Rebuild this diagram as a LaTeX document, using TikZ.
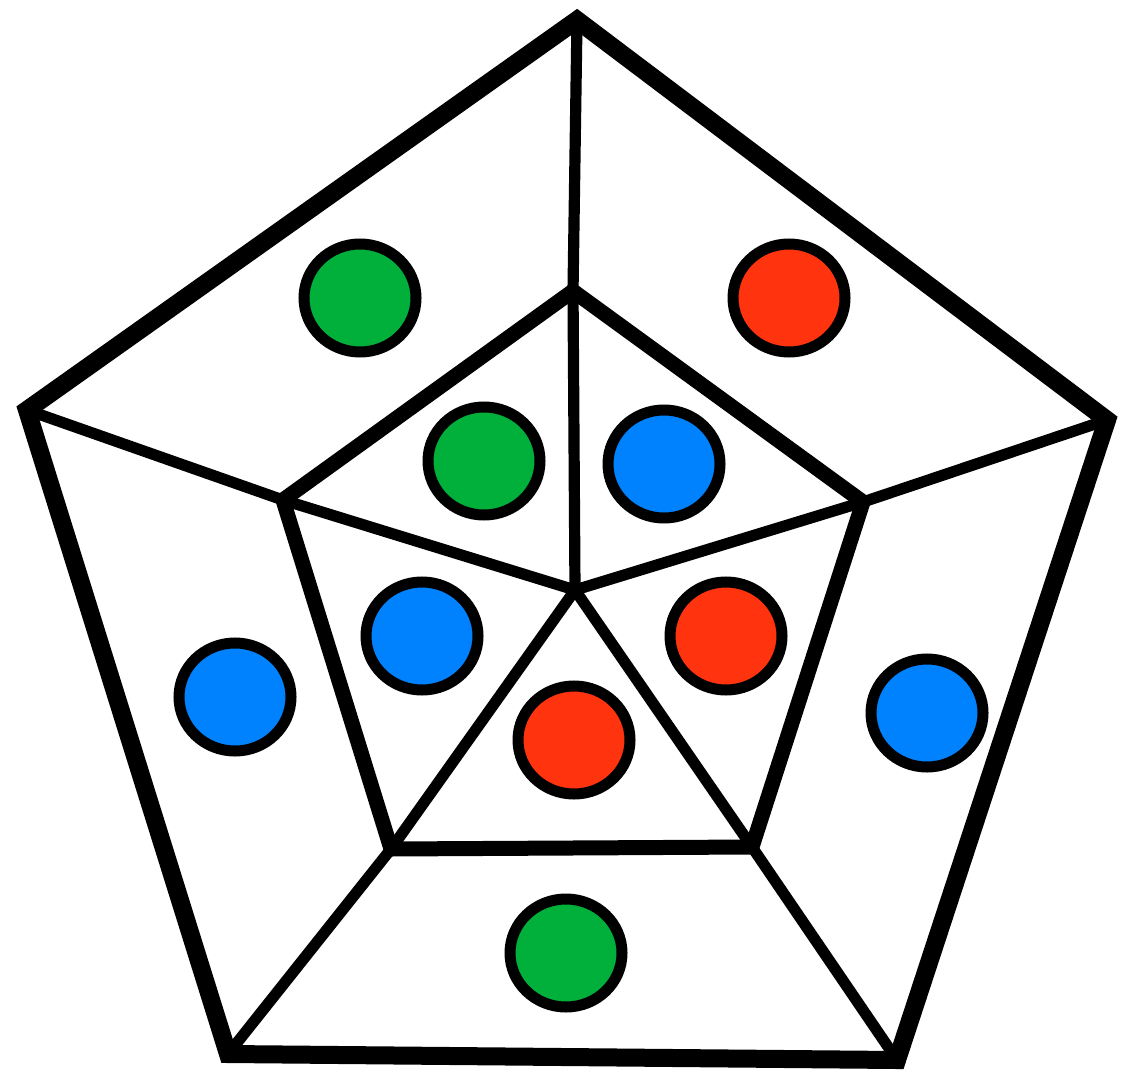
\documentclass[tikz,border=0pt]{standalone}
\usetikzlibrary{shadows,shapes.geometric}
\definecolor{cgreen}{RGB}{0,176,58}
\definecolor{cred}{RGB}{255,51,14}
\definecolor{cblue}{RGB}{0,130,255}
\tikzset{
  outerline/.style={line width=9pt, line join=miter, miter limit=10},
  innerline/.style={line width=7.5pt, line join=miter, miter limit=10},
  spoke/.style={line width=5.6pt},
  dot/.style={ellipse, draw=black, line width=5.5pt, minimum width=56pt, minimum height=54pt, inner sep=0pt,
    drop shadow={shadow xshift=0pt, shadow yshift=-2pt, opacity=0.25, fill=black}},
}
\begin{document}
\begin{tikzpicture}[x=0.5pt,y=-0.5pt]
\useasboundingbox (0,0) rectangle (1122,1079);
% outer vertices
\coordinate (O1) at (577,20);
\coordinate (O2) at (1107,420);
\coordinate (O3) at (897,1060);
\coordinate (O4) at (228,1054);
\coordinate (O5) at (27,410);
% inner vertices
\coordinate (I1) at (573,291);
\coordinate (I2) at (863,502);
\coordinate (I3) at (752,847);
\coordinate (I4) at (391,849);
\coordinate (I5) at (283,500);
\coordinate (C) at (575,590);
% spokes
\foreach \i in {1,...,5} {
  \draw[spoke] (O\i) -- (I\i);
  \draw[spoke] (I\i) -- (C);
}
\draw[outerline] (O1) -- (O2) -- (O3) -- (O4) -- (O5) -- cycle;
\draw[innerline] (I1) -- (I2) -- (I3) -- (I4) -- (I5) -- cycle;
% dots
\node[dot, fill=cgreen] (d1) at (360,298) {};
\node[dot, fill=cred] (d2) at (789,298) {};
\node[dot, fill=cgreen] (d3) at (484,461) {};
\node[dot, fill=cblue] (d4) at (664,464) {};
\node[dot, fill=cblue] (d5) at (422,636) {};
\node[dot, fill=cred] (d6) at (726,636) {};
\node[dot, fill=cred] (d7) at (574,740) {};
\node[dot, fill=cblue] (d8) at (235,697) {};
\node[dot, fill=cblue] (d9) at (927,713) {};
\node[dot, fill=cgreen] (d10) at (566,953) {};
\end{tikzpicture}
\end{document}
